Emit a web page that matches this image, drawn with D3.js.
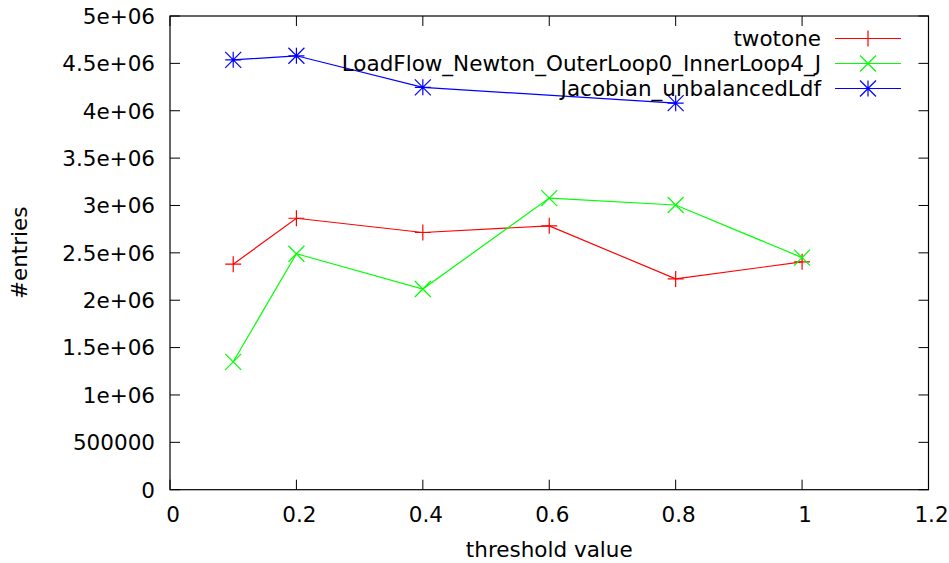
<!DOCTYPE html>
<html>
<head>
<meta charset="utf-8">
<script src="https://cdn.jsdelivr.net/npm/d3@7"></script>
<style>
  body { margin: 0; background: #fff; }
  text { font-family: "DejaVu Sans", sans-serif; font-size: 21.5px; fill: #000; }
</style>
</head>
<body>
<div id="chart"></div>
<script>
// Data =====================================================
var xValues = [0.1, 0.2, 0.4, 0.6, 0.8, 1.0];
var twotone = [2380000, 2865000, 2715000, 2785000, 2225000, 2405000];
var loadFlow = [1350000, 2490000, 2118000, 3078000, 3005000, 2450000];
var jacobianX = [0.1, 0.2, 0.4, 0.8];
var jacobian = [4537000, 4580000, 4247000, 4080000];
var seriesNames = ["twotone", "LoadFlow_Newton_OuterLoop0_InnerLoop4_J", "Jacobian_unbalancedLdf"];
var xTicks = [0, 0.2, 0.4, 0.6, 0.8, 1, 1.2];
var yTicks = [0, 500000, 1000000, 1500000, 2000000, 2500000, 3000000, 3500000, 4000000, 4500000, 5000000];
var yTickLabels = ["0", "500000", "1e+06", "1.5e+06", "2e+06", "2.5e+06", "3e+06", "3.5e+06", "4e+06", "4.5e+06", "5e+06"];
// ==========================================================

var W = 949, H = 563;
var pLeft = 170, pRight = 928.5, pTop = 16, pBottom = 489.7;

var svg = d3.select("#chart").append("svg")
    .attr("width", W).attr("height", H);

var x = d3.scaleLinear().domain([0, 1.2]).range([pLeft, pRight]);
var y = d3.scaleLinear().domain([0, 5000000]).range([pBottom, pTop]);

// Axes / ticks ==============================================
var tk = 10;
var g = svg.append("g").attr("stroke", "#000").attr("stroke-width", 1);
xTicks.forEach(function(t){
  g.append("line").attr("x1", x(t)).attr("x2", x(t)).attr("y1", pBottom).attr("y2", pBottom - tk);
  g.append("line").attr("x1", x(t)).attr("x2", x(t)).attr("y1", pTop).attr("y2", pTop + tk);
});
yTicks.forEach(function(t){
  g.append("line").attr("x1", pLeft).attr("x2", pLeft + tk).attr("y1", y(t)).attr("y2", y(t));
  g.append("line").attr("x1", pRight).attr("x2", pRight - tk).attr("y1", y(t)).attr("y2", y(t));
});
svg.append("rect")
   .attr("x", pLeft).attr("y", pTop)
   .attr("width", pRight - pLeft).attr("height", pBottom - pTop)
   .attr("fill", "none").attr("stroke", "#000").attr("stroke-width", 1.2);

svg.selectAll(".xl").data(xTicks).enter().append("text")
   .attr("x", function(d){ return x(d) + 3; })
   .attr("y", pBottom + 32)
   .attr("text-anchor", "middle")
   .text(function(d){ return d3.format("")(d); });

svg.selectAll(".yl").data(yTicks).enter().append("text")
   .attr("x", pLeft - 15)
   .attr("y", function(d){ return y(d) + 7.8; })
   .attr("text-anchor", "end")
   .text(function(d, i){ return yTickLabels[i]; });

svg.append("text")
   .attr("x", (pLeft + pRight) / 2).attr("y", 557)
   .attr("text-anchor", "middle")
   .text("threshold value");

svg.append("text")
   .attr("transform", "translate(27," + ((pTop + pBottom) / 2) + ") rotate(-90)")
   .attr("text-anchor", "middle")
   .text("#entries");

// Markers ===================================================
var s = 8;
function marker(sel, type, cx, cy, color){
  var p = "";
  if (type === "plus" || type === "star") p += "M" + (cx - s) + "," + cy + "H" + (cx + s) + "M" + cx + "," + (cy - s) + "V" + (cy + s);
  if (type === "cross" || type === "star") p += "M" + (cx - s) + "," + (cy - s) + "L" + (cx + s) + "," + (cy + s) + "M" + (cx - s) + "," + (cy + s) + "L" + (cx + s) + "," + (cy - s);
  sel.append("path").attr("d", p).attr("stroke", color).attr("stroke-width", 1.2).attr("fill", "none");
}

var series = [
  {name: seriesNames[0], xs: xValues, ys: twotone, color: "#ff0000", type: "plus"},
  {name: seriesNames[1], xs: xValues, ys: loadFlow, color: "#00ff00", type: "cross"},
  {name: seriesNames[2], xs: jacobianX, ys: jacobian, color: "#0000ff", type: "star"}
];

var line = d3.line().x(function(d){ return x(d[0]); }).y(function(d){ return y(d[1]); });

series.forEach(function(sr, i){
  var pts = sr.xs.map(function(v, j){ return [v, sr.ys[j]]; });
  var gs = svg.append("g");
  gs.append("path").attr("d", line(pts))
    .attr("fill", "none").attr("stroke", sr.color).attr("stroke-width", 1.2);
  pts.forEach(function(p){ marker(gs, sr.type, x(p[0]), y(p[1]), sr.color); });
});

// legend drawn on top
series.forEach(function(sr, i){
  var ly = 38.5 + i * 25;
  svg.append("text").attr("x", 821).attr("y", ly + 7.8)
     .attr("text-anchor", "end").text(sr.name);
  svg.append("line").attr("x1", 835).attr("x2", 901).attr("y1", ly).attr("y2", ly)
     .attr("stroke", sr.color).attr("stroke-width", 1.2);
  marker(svg, sr.type, 868, ly, sr.color);
});
</script>
</body>
</html>
